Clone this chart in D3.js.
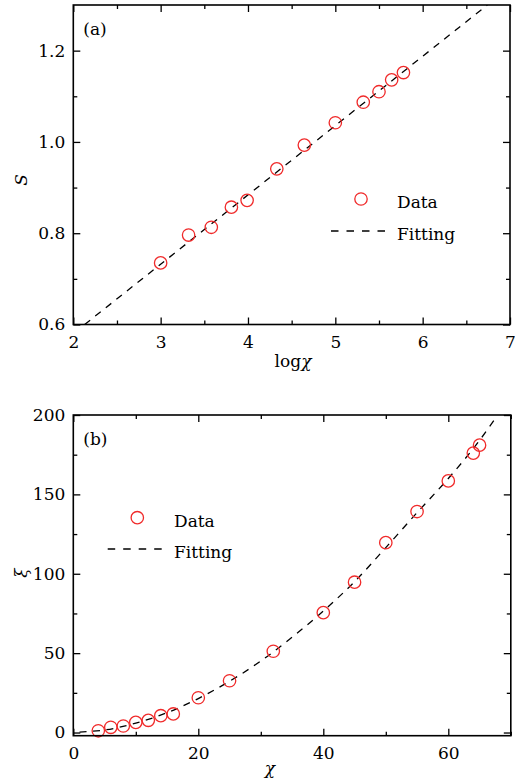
<!DOCTYPE html>
<html>
<head>
<meta charset="utf-8">
<script src="https://cdn.jsdelivr.net/npm/d3@7"></script>
<style>
  body { margin: 0; background: #fff; }
  svg text { font-family: "DejaVu Serif", serif; fill: #000; }
</style>
</head>
<body>
<div id="chart"></div>
<script>
// panel (a): entropy vs log(chi)
var logChi  = [3.00, 3.32, 3.58, 3.81, 3.99, 4.33, 4.645, 5.00, 5.32, 5.50, 5.645, 5.78];
var entropy = [0.735, 0.796, 0.813, 0.857, 0.872, 0.941, 0.993, 1.042, 1.087, 1.110, 1.136, 1.152];
var fitA_x  = [2.13, 6.74];
var fitA_y  = [0.600, 1.300];

// panel (b): correlation length vs chi
var chi = [4, 6, 8, 10, 12, 14, 16, 20, 25, 32, 40, 45, 50, 55, 60, 64, 65];
var xi  = [1.1, 3.3, 4.1, 6.4, 7.7, 10.6, 11.7, 21.9, 32.6, 51.2, 75.5, 94.7, 119.6, 139.2, 158.5, 176, 181];
var fitB_x = [1, 5, 10, 15, 20, 25, 30, 35, 40, 45, 50, 55, 60, 65, 67.8];
var fitB_y = [0.3, 1.6, 5.9, 12.5, 21.4, 32.3, 45, 60, 76.5, 95, 116.5, 138.5, 160, 184, 199.5];

var W = 515, H = 783;
var red = "#f02a2a";
var svg = d3.select("#chart").append("svg").attr("width", W).attr("height", H);

function drawPanel(opt) {
	var x = d3.scaleLinear().domain(opt.xDomain).range([opt.left, opt.right]);
	var y = d3.scaleLinear().domain(opt.yDomain).range([opt.bottom, opt.top]);
	var g = svg.append("g");

	// clip so the fit line stays in the frame
	var clipId = "clip-" + opt.name;
	svg.append("defs").append("clipPath").attr("id", clipId)
		.append("rect").attr("x", opt.left).attr("y", opt.top)
		.attr("width", opt.right - opt.left).attr("height", opt.bottom - opt.top);

	var fit = d3.range(opt.fitX.length).map(function(i) { return [opt.fitX[i], opt.fitY[i]]; });
	g.append("path").datum(fit)
		.attr("clip-path", "url(#" + clipId + ")")
		.attr("fill", "none").attr("stroke", "#000").attr("stroke-width", 1.3)
		.attr("stroke-dasharray", "7,6.5")
		.attr("d", d3.line().curve(d3.curveMonotoneX).x(function(d) { return x(d[0]); }).y(function(d) { return y(d[1]); }));

	g.append("g").selectAll("circle").data(opt.px).enter().append("circle")
		.attr("cx", function(d) { return x(d); })
		.attr("cy", function(d, i) { return y(opt.py[i]); })
		.attr("r", 6.2).attr("fill", "none").attr("stroke", red).attr("stroke-width", 1.3);

	// ticks, all pointing inwards, on all four sides
	function axis(a, scale, vals, size, fmt, transform, pad) {
		var ax = a(scale).tickValues(vals).tickSize(-size).tickPadding(pad || 0).tickFormat(fmt || "");
		var s = g.append("g").attr("transform", transform).call(ax);
		s.select(".domain").remove();
		s.selectAll("line").attr("stroke", "#000").attr("stroke-width", 1.3);
		s.selectAll("text").attr("font-size", "17px").attr("font-family", "DejaVu Serif");
		return s;
	}
	axis(d3.axisBottom, x, opt.xMajor, 7, opt.xFmt, "translate(0," + opt.bottom + ")", 11);
	axis(d3.axisBottom, x, opt.xMinor, 4, null, "translate(0," + opt.bottom + ")");
	axis(d3.axisTop, x, opt.xMajor, 7, null, "translate(0," + opt.top + ")");
	axis(d3.axisTop, x, opt.xMinor, 4, null, "translate(0," + opt.top + ")");
	axis(d3.axisLeft, y, opt.yMajor, 7, opt.yFmt, "translate(" + opt.left + ",0)", 8);
	axis(d3.axisLeft, y, opt.yMinor, 4, null, "translate(" + opt.left + ",0)");
	axis(d3.axisRight, y, opt.yMajor, 7, null, "translate(" + opt.right + ",0)");
	axis(d3.axisRight, y, opt.yMinor, 4, null, "translate(" + opt.right + ",0)");

	g.append("rect").attr("x", opt.left).attr("y", opt.top)
		.attr("width", opt.right - opt.left).attr("height", opt.bottom - opt.top)
		.attr("fill", "none").attr("stroke", "#000").attr("stroke-width", 1.6);

	g.append("text").attr("x", opt.left + 10).attr("y", opt.top + 30)
		.attr("font-size", "17px").text(opt.name === "a" ? "(a)" : "(b)");

	// legend
	var L = opt.legend;
	g.append("circle").attr("cx", L.cx).attr("cy", L.cy).attr("r", 6.2)
		.attr("fill", "none").attr("stroke", red).attr("stroke-width", 1.3);
	g.append("text").attr("x", L.tx).attr("y", L.cy + 9).attr("font-size", "17px").text("Data");
	g.append("line").attr("x1", L.lx1).attr("x2", L.lx2).attr("y1", L.ly).attr("y2", L.ly)
		.attr("stroke", "#000").attr("stroke-width", 1.3).attr("stroke-dasharray", "7.5,8");
	g.append("text").attr("x", L.tx).attr("y", L.ly + 9).attr("font-size", "17px").text("Fitting");

	return g;
}

var ga = drawPanel({
	name: "a", left: 73.3, right: 510, top: 5, bottom: 324.5,
	xDomain: [2, 7], yDomain: [0.6, 1.3],
	xMajor: [2, 3, 4, 5, 6, 7], xMinor: [2.5, 3.5, 4.5, 5.5, 6.5],
	yMajor: [0.6, 0.8, 1.0, 1.2], yMinor: [0.7, 0.9, 1.1],
	xFmt: d3.format("d"), yFmt: d3.format(".1f"),
	px: logChi, py: entropy, fitX: fitA_x, fitY: fitA_y,
	legend: {cx: 361, cy: 199, tx: 397, lx1: 331, lx2: 388, ly: 231}
});
ga.append("text").attr("x", 293).attr("y", 367).attr("text-anchor", "middle").attr("font-size", "17px")
	.html('log<tspan font-style="italic">χ</tspan>');
ga.append("text").attr("transform", "translate(27,180) rotate(-90)").attr("text-anchor", "middle")
	.attr("font-size", "17px").attr("font-style", "italic").text("S");

var gb = drawPanel({
	name: "b", left: 73.3, right: 510.8, top: 415, bottom: 735.7,
	xDomain: [0, 70], yDomain: [-2, 200],
	xMajor: [0, 20, 40, 60], xMinor: [10, 30, 50, 70],
	yMajor: [0, 50, 100, 150, 200], yMinor: [25, 75, 125, 175],
	xFmt: d3.format("d"), yFmt: d3.format("d"),
	px: chi, py: xi, fitX: fitB_x, fitY: fitB_y,
	legend: {cx: 137.3, cy: 517.7, tx: 174, lx1: 107.7, lx2: 164, ly: 549}
});
gb.append("text").attr("x", 270).attr("y", 774).attr("text-anchor", "middle").attr("font-size", "17px")
	.attr("font-style", "italic").text("χ");
gb.append("text").attr("transform", "translate(27,573) rotate(-90)").attr("text-anchor", "middle")
	.attr("font-size", "17px").attr("font-style", "italic").text("ξ");
</script>
</body>
</html>
